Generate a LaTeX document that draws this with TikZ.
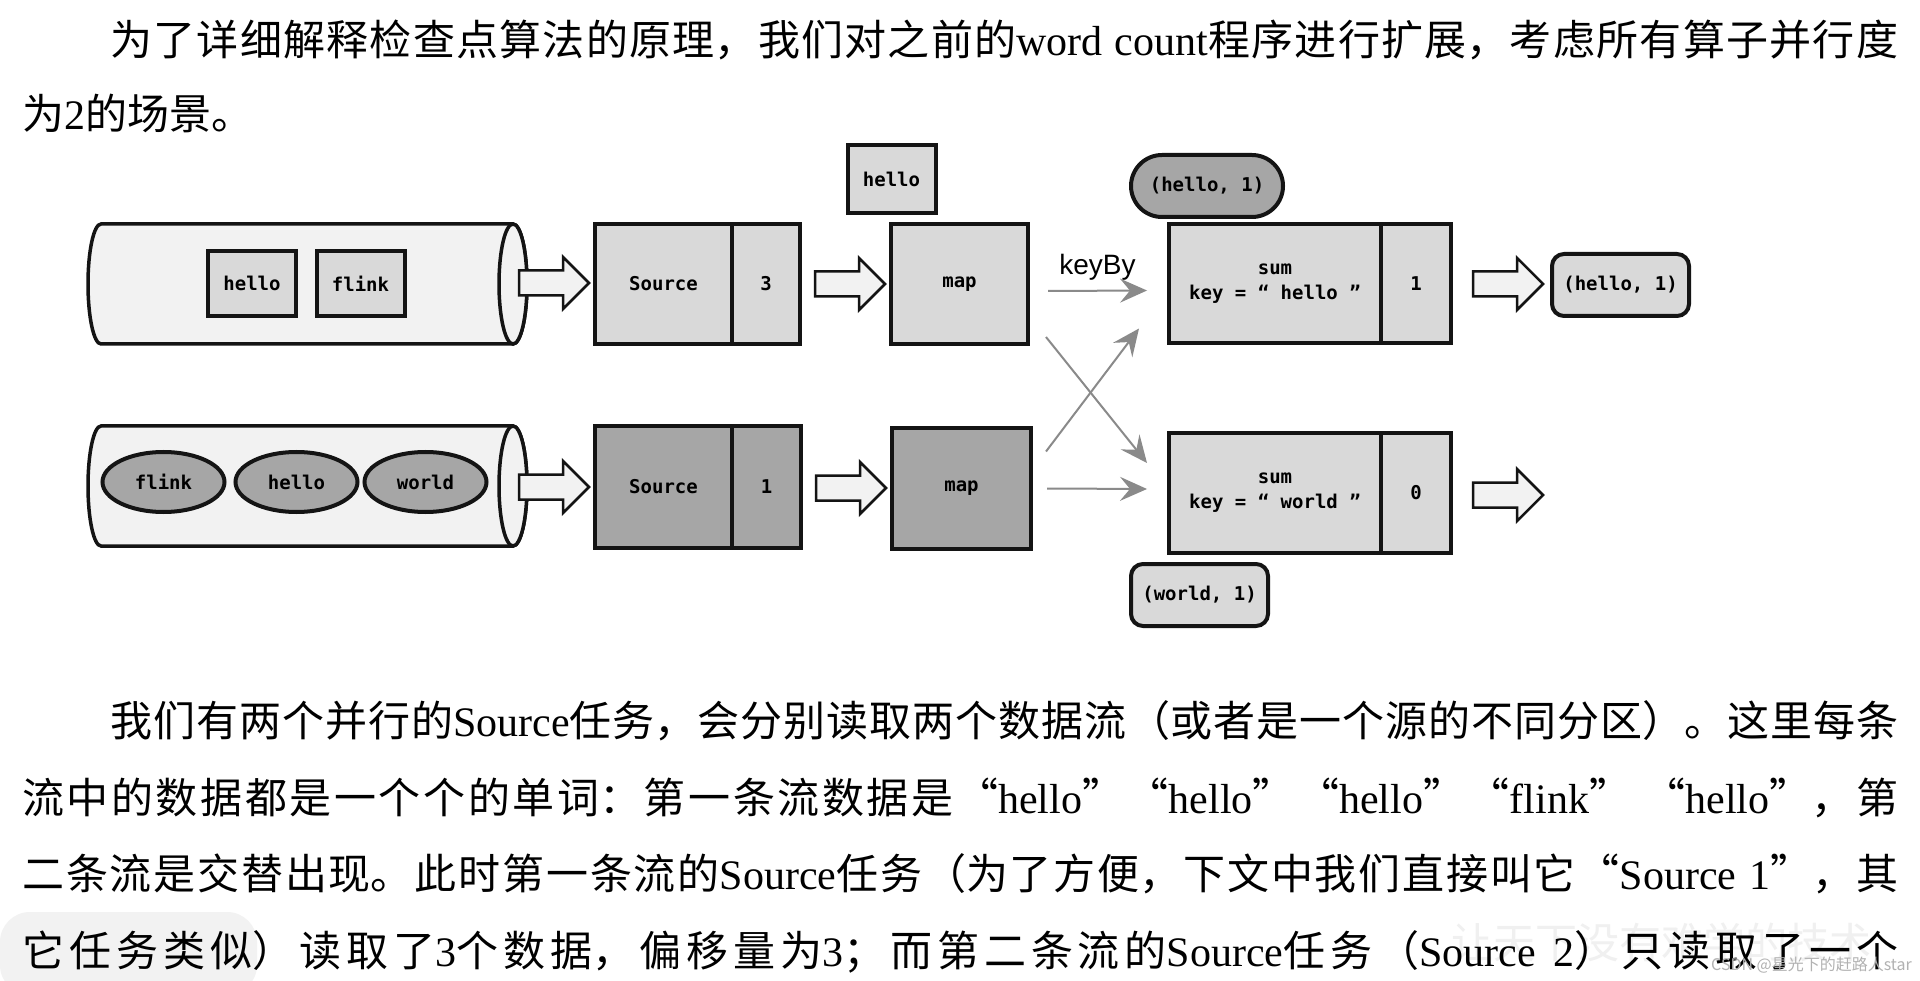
\documentclass[tikz,border=0pt]{standalone}
\usepackage{fontspec}
\setmainfont{Noto Sans CJK SC}
\newfontfamily\enfont{Liberation Serif}
\newfontfamily\codefont{DejaVu Sans Mono}
\newfontfamily\keyfont{Liberation Sans}
\usetikzlibrary{arrows.meta,calc,shapes.geometric,positioning}
\XeTeXlinebreaklocale "zh"
\XeTeXlinebreakskip=0pt plus 4pt

\definecolor{streamfill}{HTML}{F2F2F2}
\definecolor{boxfill}{HTML}{D9D9D9}
\definecolor{darkfill}{HTML}{A6A6A6}
\definecolor{wiregray}{HTML}{8A8A8A}
\definecolor{ink}{HTML}{141414}

\newcommand{\en}[1]{{\enfont #1}}
\newcommand{\bodyfont}{\fontsize{42}{50}\selectfont}
\newcommand{\code}{\codefont\bfseries\fontsize{19}{25}\selectfont}
\newcommand{\jline}[2]{\parbox[b]{#1pt}{\tolerance=10000\parfillskip=0pt\relax #2}}

\begin{document}
\begin{tikzpicture}[x=1pt, y=-1pt,
		>={Stealth[length=27pt, width=24pt, inset=10pt]},
		opbox/.style={draw=ink, line width=4pt, fill=boxfill, inner sep=0pt, outer sep=0pt, font=\code, align=center},
		darkbox/.style={opbox, fill=darkfill},
		word/.style={opbox, minimum width=88, minimum height=65},
		token/.style={ellipse, draw=ink, line width=4pt, fill=darkfill, minimum width=122, minimum height=60, inner sep=0pt, font=\code},
		record/.style={draw=ink, line width=4pt, fill=boxfill, rounded corners=12, minimum width=137, minimum height=62, inner sep=0pt, font=\code},
		flow/.style={->, wiregray, line width=2pt},
		textline/.style={anchor=base west, inner sep=0pt, font=\bodyfont}]
	\tikzset{
		stream/.pic={
				\draw[ink, line width=3.5pt, fill=streamfill] (0,-60) arc[start angle=270, end angle=90, x radius=13, y radius=60]
				-- (412,60) arc[start angle=90, end angle=-90, x radius=14, y radius=60] -- cycle;
				\draw[ink, line width=3.5pt, fill=streamfill] (412,0) ellipse[x radius=14, y radius=60];
			},
		push/.pic={
				\draw[ink, line width=2.5pt, fill=streamfill] (0,-12.5) -- (44,-12.5) -- (44,-26) -- (70,0)
				-- (44,26) -- (44,12.5) -- (0,12.5) -- cycle;
			}
	}
	\fill[white] (0,0) rectangle (1920,981);
	\useasboundingbox (0,0) rectangle (1920,981);

	% watermark, behind the text
	\fill[gray!10, rounded corners=30] (0,912) rectangle (257,995);
	\node[anchor=base west, inner sep=0pt, text=gray!12, font=\fontsize{42}{46}\selectfont] (mark) at (1451,958) {让天下没有难学的技术};

	% text above
	\node[textline] (introa) at (110,56) {\jline{1788}{为了详细解释检查点算法的原理，我们对之前的\en{word count}程序进行扩展，考虑所有算子并行度}};
	\node[textline] (introb) at (22,130) {为\en{2}的场景。};

	% the two streams
	\pic at (101,284) {stream};
	\pic at (101,486) {stream};
	\node[word] (w1) at (252,283.5) {hello};
	\node[word] (w2) at (360.5,283.5) {flink};
	\foreach \name/\x/\txt in {t1/163.5/flink, t2/296.5/hello, t3/425.5/world} {
			\node[token] (\name) at (\x,482) {\txt};
		}

	% sources
	\node[opbox, minimum width=137, minimum height=120] (src1) at (663.5,284) {Source};
	\node[opbox, minimum width=68, minimum height=120, right=0pt of src1] (off1) {3};
	\node[darkbox, minimum width=137, minimum height=122] (src2) at (663.5,487) {Source};
	\node[darkbox, minimum width=69, minimum height=122, right=0pt of src2] (off2) {1};

	% map
	\node[word, minimum height=68] (inflight) at (891.5,179) {hello};
	\node[opbox, minimum width=137, minimum height=120] (map1) at (959.5,284) {map};
	\node[darkbox, minimum width=139, minimum height=121] (map2) at (961.5,488.5) {map};

	% sum
	\node[opbox, minimum width=212, minimum height=119] (sum1) at (1275,283.5) {sum\\key = “ hello ”};
	\node[opbox, minimum width=70, minimum height=119, right=0pt of sum1] (acc1) {1};
	\node[opbox, minimum width=212, minimum height=120] (sum2) at (1275,493) {sum\\key = “ world ”};
	\node[opbox, minimum width=70, minimum height=120, right=0pt of sum2] (acc2) {0};
	\node[record, fill=darkfill, rounded corners=31, minimum width=152] (emit) at (1207,186) {(hello, 1)};
	\node[record] (out1) at (1620.5,285) {(hello, 1)};
	\node[record] (wait2) at (1199.5,595) {(world, 1)};

	% block arrows
	\foreach \x/\y in {519/283, 815/284, 1473/284, 519/487, 816/488, 1473/495} {
			\pic at (\x,\y) {push};
		}

	% keyBy
	\draw[flow] ($(map1.east)+(20,7)$) -- node[midway, above=9pt, inner sep=0pt, text=black, font=\keyfont\fontsize{28}{30}\selectfont] (keyby) {keyBy} ($(sum1.west)+(-22,7)$);
	\draw[flow] ($(map1.east)+(18,53)$) -- ($(sum2.west)+(-22,-30)$);
	\draw[flow] ($(map2.east)+(15,-37)$) -- ($(sum1.west)+(-30,45)$);
	\draw[flow] ($(map2.east)+(16,0)$) -- ($(sum2.west)+(-22,-4)$);

	% text below
	\node[textline] (bodya) at (110,736) {\jline{1788}{我们有两个并行的\en{Source}任务，会分别读取两个数据流（或者是一个源的不同分区）。这里每条}};
	\node[textline] (bodyb) at (22,813) {\jline{1876}{流中的数据都是一个个的单词：第一条流数据是“\en{hello}”“\en{hello}”“\en{hello}”“\en{flink}” “\en{hello}”，第}};
	\node[textline] (bodyc) at (22,889) {\jline{1876}{二条流是交替出现。此时第一条流的\en{Source}任务（为了方便，下文中我们直接叫它“\en{Source 1}”，其}};
	\node[textline] (bodyd) at (22,966) {\jline{1876}{它任务类似）读取了\en{3}个数据，偏移量为\en{3}；而第二条流的\en{Source}任务（\en{Source 2}）只读取了一个}};

	\node[anchor=base east, inner sep=0pt, text=gray!60, font=\fontsize{16}{18}\selectfont] (credit) at (1912,970) {CSDN @星光下的赶路人star};
\end{tikzpicture}
\end{document}
